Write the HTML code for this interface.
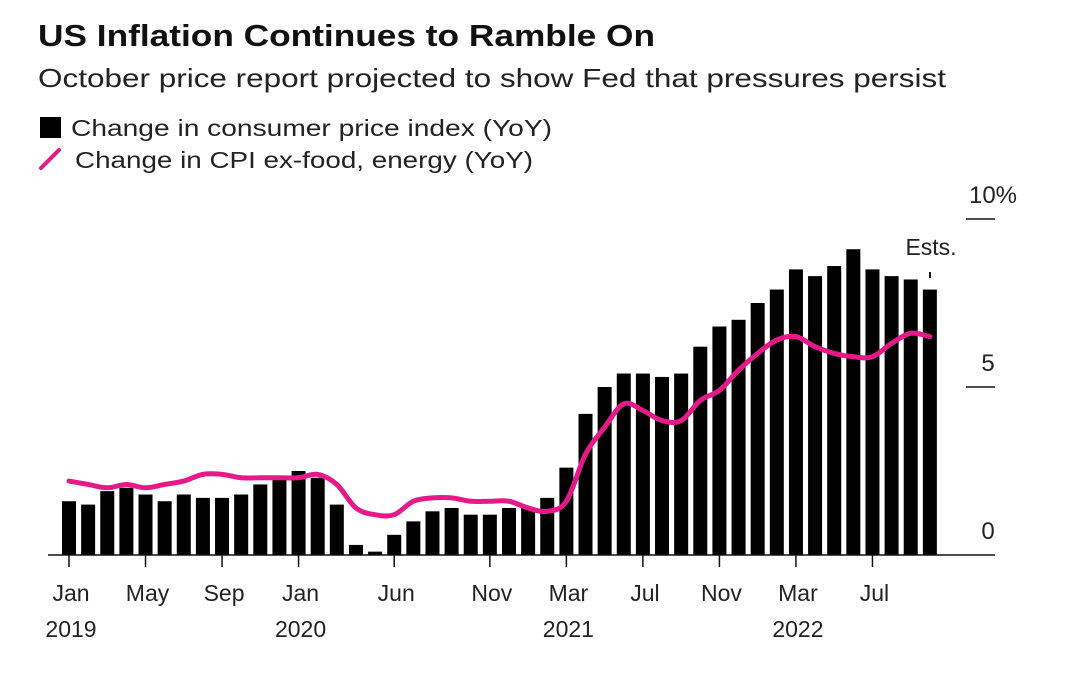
<!DOCTYPE html>
<html><head><meta charset="utf-8">
<style>
body{margin:0;background:#fff;width:1065px;height:670px;overflow:hidden;font-family:"Liberation Sans",Arial,sans-serif;color:#111}
svg text{font-family:"Liberation Sans",Arial,sans-serif}
</style></head>
<body>
<svg width="1065" height="670">
<text x="38" y="46" font-size="31" font-weight="bold" fill="#111" textLength="617" lengthAdjust="spacingAndGlyphs">US Inflation Continues to Ramble On</text>
<text x="38" y="87" font-size="26" fill="#222" textLength="908" lengthAdjust="spacingAndGlyphs">October price report projected to show Fed that pressures persist</text>
<g>
<rect x="40" y="117" width="21" height="21" fill="#000"/>
<text x="71" y="136" font-size="23" fill="#222" textLength="481" lengthAdjust="spacingAndGlyphs">Change in consumer price index (YoY)</text>
<line x1="41" y1="168" x2="59" y2="150" stroke="#e6198a" stroke-width="4" stroke-linecap="round"/>
<text x="75" y="168" font-size="23" fill="#222" textLength="458" lengthAdjust="spacingAndGlyphs">Change in CPI ex-food, energy (YoY)</text>
</g>
<g id="bars"></g>
<path id="core" fill="none" stroke="#e6198a" stroke-width="5" stroke-linejoin="round" stroke-linecap="round"/>
<line x1="48" y1="555" x2="995" y2="555" stroke="#111" stroke-width="1.5"/>
<g id="yaxis"></g>
<g id="xaxis"></g>
<text x="931" y="255" font-size="23" fill="#222" text-anchor="middle">Ests.</text>
<line x1="930" y1="272" x2="930" y2="278" stroke="#111" stroke-width="2"/>
</svg>
<script>
const cpi=[1.6,1.5,1.9,2.0,1.8,1.6,1.8,1.7,1.7,1.8,2.1,2.3,
2.5,2.3,1.5,0.3,0.1,0.6,1.0,1.3,1.4,1.2,1.2,1.4,
1.4,1.7,2.6,4.2,5.0,5.4,5.4,5.3,5.4,6.2,6.8,7.0,
7.5,7.9,8.5,8.3,8.6,9.1,8.5,8.3,8.2,7.9];
const core=[2.2,2.1,2.0,2.1,2.0,2.1,2.2,2.4,2.4,2.3,2.3,2.3,
2.3,2.4,2.1,1.4,1.2,1.2,1.6,1.7,1.7,1.6,1.6,1.6,
1.4,1.3,1.6,3.0,3.8,4.5,4.3,4.0,4.0,4.6,4.9,5.5,
6.0,6.4,6.5,6.2,6.0,5.9,5.9,6.3,6.6,6.5];
const xTickIdx=[0,4,8,12,17,22,26,30,34,38,42];
const xTickMonth=["Jan","May","Sep","Jan","Jun","Nov","Mar","Jul","Nov","Mar","Jul"];
const xTickYear=["2019","","","2020","","","2021","","","2022",""];
const yTicks=[0,5,10];
const yTickLabels=["0","5","10%"];
const NS="http://www.w3.org/2000/svg";
const x=i=>69+i*19.13;
const y=v=>555-v*33.6;
function mk(t,a,p){const e=document.createElementNS(NS,t);for(const k in a)e.setAttribute(k,a[k]);p.appendChild(e);return e;}
const bars=document.getElementById('bars');
cpi.forEach((v,i)=>{
 const r=mk('rect',{x:x(i)-7,y:y(v),width:14,height:y(0)-y(v),fill:'#000'},bars);
 
 
});
let pts=core.map((v,i)=>[x(i),y(v)]);
let d='M'+pts[0][0]+','+pts[0][1];
for(let i=0;i<pts.length-1;i++){
 const p0=pts[Math.max(0,i-1)],p1=pts[i],p2=pts[i+1],p3=pts[Math.min(pts.length-1,i+2)];
 const c1=[p1[0]+(p2[0]-p0[0])/6,p1[1]+(p2[1]-p0[1])/6];
 const c2=[p2[0]-(p3[0]-p1[0])/6,p2[1]-(p3[1]-p1[1])/6];
 d+=` C${c1[0]},${c1[1]} ${c2[0]},${c2[1]} ${p2[0]},${p2[1]}`;
}
document.getElementById('core').setAttribute('d',d);
const ya=document.getElementById('yaxis');
yTicks.forEach((v,i)=>{
 if(v>0){const l=mk('line',{x1:966,x2:995,y1:y(v),y2:y(v),stroke:'#111','stroke-width':1.5},ya);
 
 }
 const t=mk('text',{x:v===10?993:988,y:y(v)-16,'font-size':24,fill:'#222','text-anchor':'middle'},ya);
 t.textContent=yTickLabels[i];
 
 
});
const xa=document.getElementById('xaxis');
xTickIdx.forEach((idx,i)=>{
 const l=mk('line',{x1:x(idx),x2:x(idx),y1:555,y2:567,stroke:'#111','stroke-width':1.5},xa);
 
 
 const t=mk('text',{x:x(idx)+2,y:601,'font-size':23,fill:'#222','text-anchor':'middle'},xa);
 t.textContent=xTickMonth[i];
 
 
 if(xTickYear[i]){
  const ty=mk('text',{x:x(idx)+2,y:637,'font-size':23,fill:'#222','text-anchor':'middle'},xa);
  ty.textContent=xTickYear[i];
  
  
 }
});
</script>
</body></html>
